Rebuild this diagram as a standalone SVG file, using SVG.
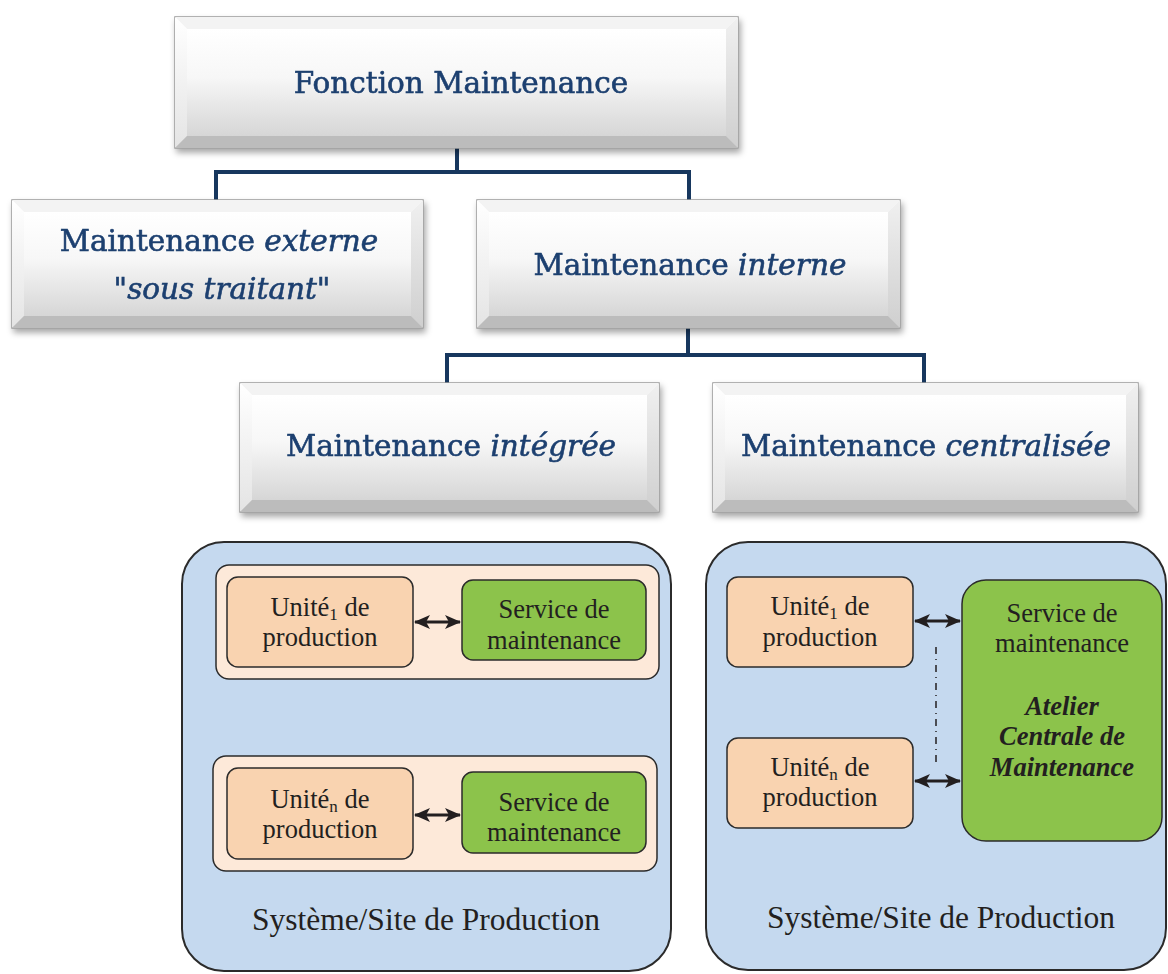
<svg xmlns="http://www.w3.org/2000/svg" width="1168" height="974" viewBox="0 0 1168 974">
<defs>
<linearGradient id="face" x1="0" y1="0" x2="0" y2="1">
<stop offset="0" stop-color="#ffffff"/><stop offset="0.45" stop-color="#f7f7f7"/><stop offset="1" stop-color="#d6d6d6"/>
</linearGradient>
<linearGradient id="leftg" x1="0" y1="0" x2="0" y2="1">
<stop offset="0" stop-color="#ffffff"/><stop offset="1" stop-color="#e4e4e4"/>
</linearGradient>
<linearGradient id="rightg" x1="0" y1="0" x2="0" y2="1">
<stop offset="0" stop-color="#f0f0f0"/><stop offset="1" stop-color="#cfcfcf"/>
</linearGradient>
<filter id="sh" x="-5%" y="-10%" width="115%" height="130%">
<feDropShadow dx="2" dy="4" stdDeviation="3" flood-color="#000" flood-opacity="0.35"/>
</filter>
<marker id="ah" viewBox="0 0 16 14" refX="15" refY="7" markerWidth="16" markerHeight="14" markerUnits="userSpaceOnUse" orient="auto-start-reverse">
<path d="M0 0 L16 7 L0 14 L4 7 Z" fill="#231f20"/>
</marker>
</defs>
<style>
.outer{fill:url(#face);stroke:#9a9a9a;stroke-width:1.5}
.bt{fill:#f3f3f3}
.bl{fill:url(#leftg)}
.br{fill:url(#rightg)}
.bb{fill:#bcbcbc}
.inner{fill:url(#face)}
.h{font-family:"DejaVu Serif","Liberation Serif",serif;font-size:29.5px;fill:#1b3f6f;stroke:#1b3f6f;stroke-width:0.6;text-anchor:middle}
.it{font-style:italic}
.conn{fill:none;stroke:#17375e;stroke-width:4}
.panel{fill:#c5d9ef;stroke:#2b2b2b;stroke-width:2}
.sub{fill:#fde9d9;stroke:#2b2b2b;stroke-width:1.5}
.unit{fill:#f9d3b0;stroke:#2b2b2b;stroke-width:1.5}
.svc{fill:#8cc34b;stroke:#2b2b2b;stroke-width:1.5}
.t{font-family:"Liberation Serif","Times New Roman",serif;font-size:26.5px;fill:#231f20;text-anchor:middle}
.tb{font-weight:bold;font-style:italic}
.big{font-size:31.5px}
.arr{stroke:#231f20;stroke-width:3;fill:none}
.dd{stroke:#231f20;stroke-width:1.5;stroke-dasharray:7 5 1 5;fill:none}
</style>

<g id="connectors">
<path class="conn" d="M457 148 V172 M216 200 V172 H689 V200"/>
<path class="conn" d="M688 328 V355 M447 383 V355 H924 V383"/>
</g>

<g id="fonction" filter="url(#sh)">
<rect class="outer" x="175" y="17" width="563" height="131"/>
<polygon class="bt" points="175,17 738,17 726,29 187,29"/>
<polygon class="bl" points="175,17 187,29 187,136 175,148"/>
<polygon class="br" points="738,17 738,148 726,136 726,29"/>
<polygon class="bb" points="175,148 187,136 726,136 738,148"/>
<rect class="inner" x="187" y="29" width="539" height="107"/>
<text class="h" x="461" y="93">Fonction Maintenance</text>
</g>

<g id="externe" filter="url(#sh)">
<rect class="outer" x="12" y="200" width="411" height="128"/>
<polygon class="bt" points="12,200 423,200 411,212 24,212"/>
<polygon class="bl" points="12,200 24,212 24,316 12,328"/>
<polygon class="br" points="423,200 423,328 411,316 411,212"/>
<polygon class="bb" points="12,328 24,316 411,316 423,328"/>
<rect class="inner" x="24" y="212" width="387" height="104"/>
<text class="h" x="219" y="251">Maintenance <tspan class="it">externe</tspan></text>
<text class="h it" x="222" y="299">"sous traitant"</text>
</g>

<g id="interne" filter="url(#sh)">
<rect class="outer" x="477" y="200" width="423" height="128"/>
<polygon class="bt" points="477,200 900,200 888,212 489,212"/>
<polygon class="bl" points="477,200 489,212 489,316 477,328"/>
<polygon class="br" points="900,200 900,328 888,316 888,212"/>
<polygon class="bb" points="477,328 489,316 888,316 900,328"/>
<rect class="inner" x="489" y="212" width="399" height="104"/>
<text class="h" x="690" y="275">Maintenance <tspan class="it">interne</tspan></text>
</g>

<g id="integree" filter="url(#sh)">
<rect class="outer" x="240" y="383" width="419" height="129"/>
<polygon class="bt" points="240,383 659,383 647,395 252,395"/>
<polygon class="bl" points="240,383 252,395 252,500 240,512"/>
<polygon class="br" points="659,383 659,512 647,500 647,395"/>
<polygon class="bb" points="240,512 252,500 647,500 659,512"/>
<rect class="inner" x="252" y="395" width="395" height="105"/>
<text class="h" x="451" y="456">Maintenance <tspan class="it">intégrée</tspan></text>
</g>

<g id="centralisee" filter="url(#sh)">
<rect class="outer" x="713" y="383" width="425" height="129"/>
<polygon class="bt" points="713,383 1138,383 1126,395 725,395"/>
<polygon class="bl" points="713,383 725,395 725,500 713,512"/>
<polygon class="br" points="1138,383 1138,512 1126,500 1126,395"/>
<polygon class="bb" points="713,512 725,500 1126,500 1138,512"/>
<rect class="inner" x="725" y="395" width="401" height="105"/>
<text class="h" x="926" y="456">Maintenance <tspan class="it">centralisée</tspan></text>
</g>

<g id="site-integre">
<rect class="panel" x="182" y="542" width="489" height="429" rx="42"/>
<rect class="sub" x="216" y="565" width="443" height="114" rx="13"/>
<rect class="unit" x="227" y="577" width="186" height="90" rx="11"/>
<text class="t" x="320" y="616">Unité<tspan font-size="17" dy="4">1</tspan><tspan dy="-4"> de</tspan></text>
<text class="t" x="320" y="646">production</text>
<rect class="svc" x="462" y="580" width="184" height="80" rx="11"/>
<text class="t" x="554" y="618">Service de</text>
<text class="t" x="554" y="649">maintenance</text>
<line class="arr" x1="415" y1="622" x2="460" y2="622" marker-start="url(#ah)" marker-end="url(#ah)"/>

<rect class="sub" x="213" y="756" width="444" height="115" rx="13"/>
<rect class="unit" x="227" y="768" width="186" height="91" rx="11"/>
<text class="t" x="320" y="808">Unité<tspan font-size="17" dy="4">n</tspan><tspan dy="-4"> de</tspan></text>
<text class="t" x="320" y="838">production</text>
<rect class="svc" x="462" y="772" width="184" height="81" rx="11"/>
<text class="t" x="554" y="811">Service de</text>
<text class="t" x="554" y="841">maintenance</text>
<line class="arr" x1="415" y1="815" x2="460" y2="815" marker-start="url(#ah)" marker-end="url(#ah)"/>

<text class="t big" x="426" y="930">Système/Site de Production</text>
</g>

<g id="site-centralise">
<rect class="panel" x="706" y="542" width="460" height="428" rx="42"/>
<rect class="unit" x="727" y="577" width="186" height="90" rx="11"/>
<text class="t" x="820" y="615">Unité<tspan font-size="17" dy="4">1</tspan><tspan dy="-4"> de</tspan></text>
<text class="t" x="820" y="646">production</text>
<rect class="unit" x="727" y="738" width="186" height="90" rx="11"/>
<text class="t" x="820" y="776">Unité<tspan font-size="17" dy="4">n</tspan><tspan dy="-4"> de</tspan></text>
<text class="t" x="820" y="806">production</text>
<rect class="svc" x="962" y="580" width="200" height="261" rx="24"/>
<text class="t" x="1062" y="622">Service de</text>
<text class="t" x="1062" y="652">maintenance</text>
<text class="t tb" x="1062" y="715">Atelier</text>
<text class="t tb" x="1062" y="745">Centrale de</text>
<text class="t tb" x="1062" y="776">Maintenance</text>
<line class="arr" x1="915" y1="621" x2="960" y2="621" marker-start="url(#ah)" marker-end="url(#ah)"/>
<line class="arr" x1="915" y1="781" x2="960" y2="781" marker-start="url(#ah)" marker-end="url(#ah)"/>
<line class="dd" x1="936" y1="647" x2="936" y2="766"/>
<text class="t big" x="941" y="928">Système/Site de Production</text>
</g>
</svg>
